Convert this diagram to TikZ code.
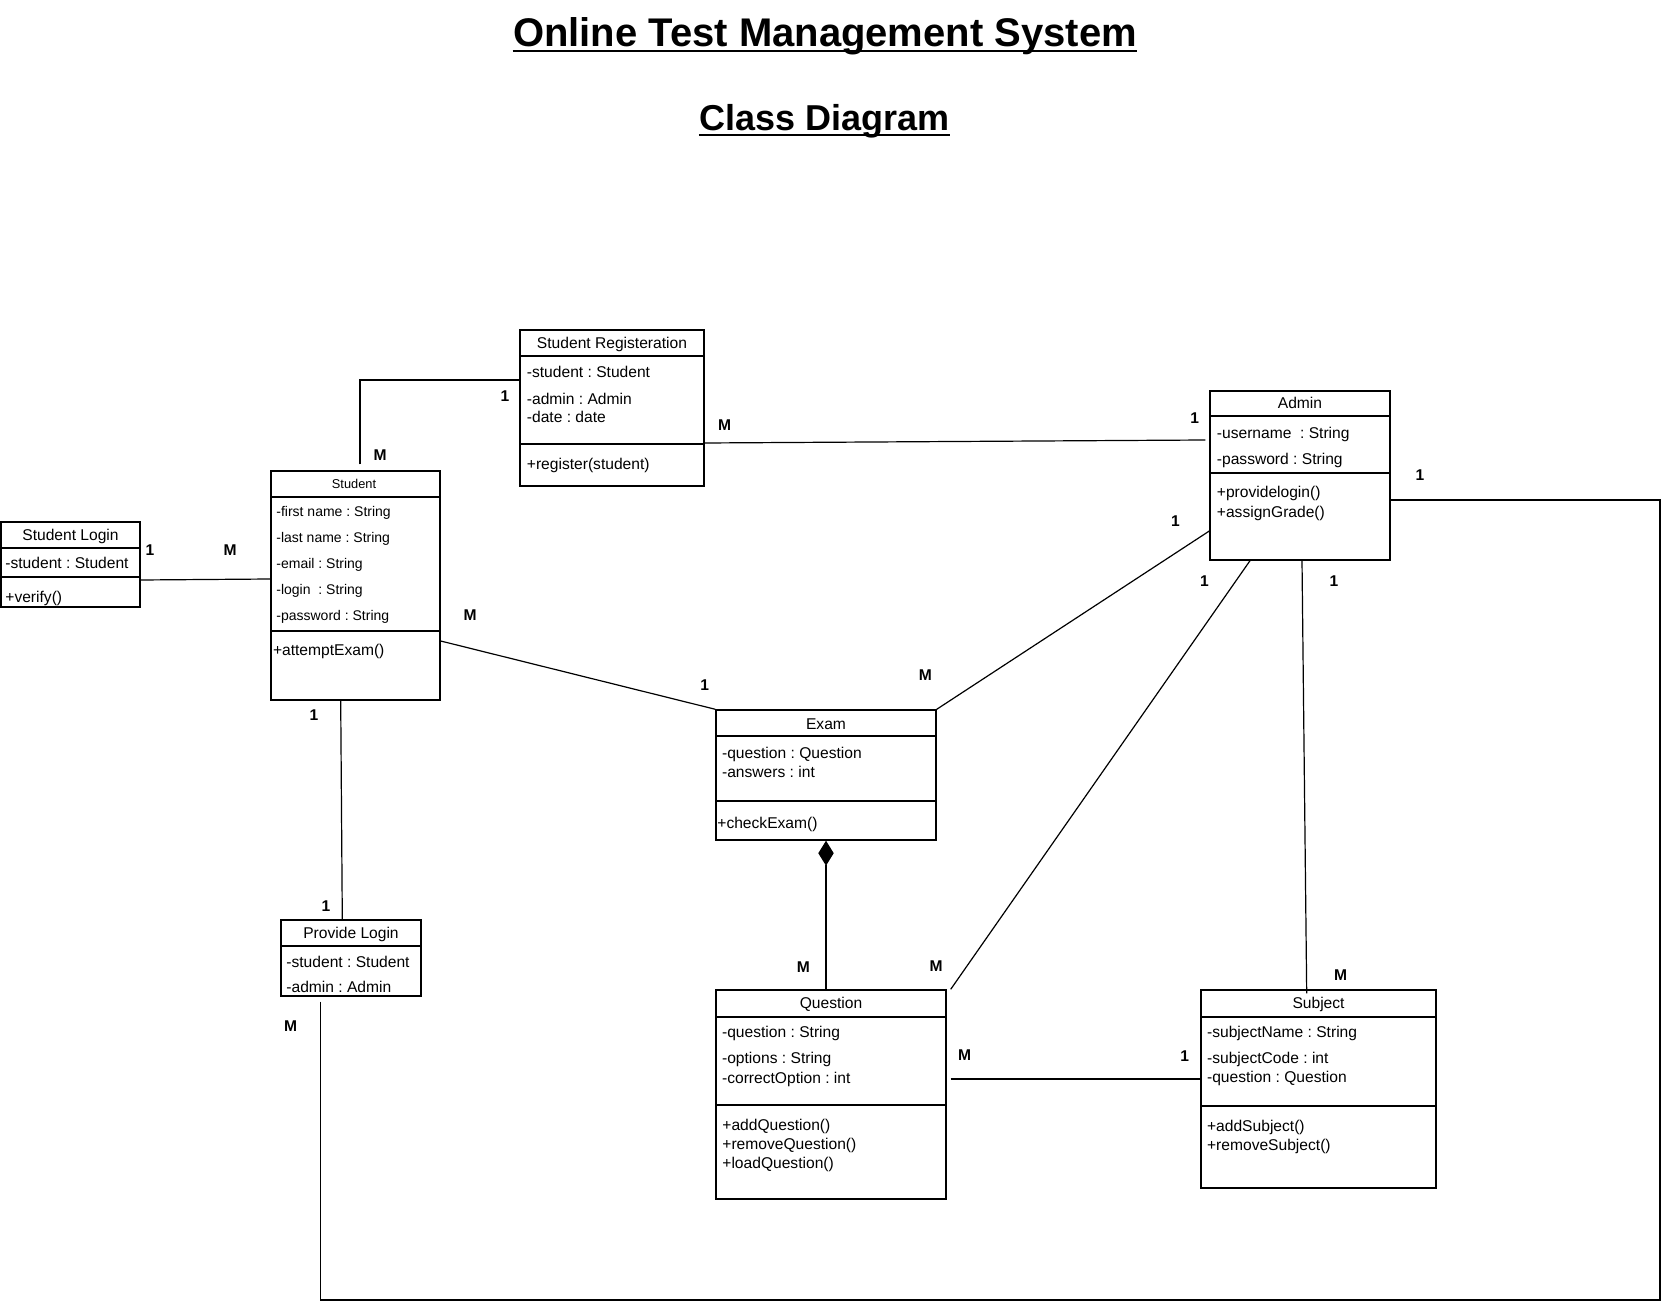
\documentclass[tikz,border=0pt]{standalone}
\usepackage{fontspec}
\setmainfont{Liberation Sans}
\usetikzlibrary{fit,arrows.meta}
\frenchspacing
\begin{document}
\begin{tikzpicture}[x=0.5pt,y=-0.5pt,
  box/.style={draw,line width=0.7pt,inner sep=0pt},
  div/.style={line width=0.7pt},
  conn/.style={line width=0.6pt},
  ttl/.style={font=\fontsize{7.8pt}{9pt}\selectfont,inner sep=0pt,text height=5.5pt,text depth=0pt,anchor=center},
  attr/.style={font=\fontsize{7.8pt}{9pt}\selectfont,inner sep=0pt,text height=5.5pt,text depth=0pt,anchor=west},
  sattr/.style={font=\fontsize{7pt}{8pt}\selectfont,inner sep=0pt,text height=4.9pt,text depth=0pt,anchor=west},
  stitle/.style={font=\fontsize{6.4pt}{7pt}\selectfont,inner sep=0pt,text height=4.5pt,text depth=0pt,anchor=center},
  mult/.style={font=\bfseries\fontsize{7.8pt}{9pt}\selectfont,inner sep=0pt,text height=5.6pt,text depth=0pt,anchor=center},
  headline/.style={font=\bfseries\fontsize{20pt}{24pt}\selectfont,inner sep=0pt,anchor=base},
  subheadline/.style={font=\bfseries\fontsize{18pt}{22pt}\selectfont,inner sep=0pt,anchor=base},
  uline/.style={line width=1pt},
]
\useasboundingbox (0,0) rectangle (1664,1304);

% titles
\node[headline] (t1) at (825,46.7) {Online Test Management System};
\draw[uline] ([yshift=-2pt]t1.base west) -- ([yshift=-2pt]t1.base east);
\node[subheadline] (t2) at (824.4,130.7) {Class Diagram};
\draw[uline] ([yshift=-2pt]t2.base west) -- ([yshift=-2pt]t2.base east);

% Student Login
\node[box,fit={(1,522)(140,607)}] (sl) {};
\draw[div] (sl.west |- 0,548) -- (sl.east |- 0,548);
\draw[div] (sl.west |- 0,577) -- (sl.east |- 0,577);
\node[ttl] (slT) at (70.5,535) {Student Login};
\node[attr] (slA) at (5,563) {-student : Student};
\node[attr] (slM) at (5,597) {+verify()};

% Student
\node[box,fit={(271,471)(440,700)}] (stu) {};
\draw[div] (stu.west |- 0,497) -- (stu.east |- 0,497);
\draw[div] (stu.west |- 0,631) -- (stu.east |- 0,631);
\node[stitle] (stuT) at (354,484) {Student};
\node[sattr] (stuA1) at (276,511.7) {-first name : String};
\node[sattr] (stuA2) at (276,537.3) {-last name : String};
\node[sattr] (stuA3) at (276,563.3) {-email : String};
\node[sattr] (stuA4) at (276,589.3) {-login~ : String};
\node[sattr] (stuA5) at (276,615.3) {-password : String};
\node[attr] (stuM1) at (272.6,650) {+attemptExam()};

% Student Registeration
\node[box,fit={(520,330)(704,486)}] (reg) {};
\draw[div] (reg.west |- 0,356) -- (reg.east |- 0,356);
\draw[div] (reg.west |- 0,444) -- (reg.east |- 0,444);
\node[ttl] (regT) at (612,343.3) {Student Registeration};
\node[attr] (regA1) at (526.5,372.3) {-student : Student};
\node[attr] (regA2) at (526.5,398.7) {-admin : Admin};
\node[attr] (regA3) at (526.5,417.3) {-date : date};
\node[attr] (regM1) at (526.5,464.3) {+register(student)};

% Admin
\node[box,fit={(1210,391)(1390,560)}] (adm) {};
\draw[div] (adm.west |- 0,416) -- (adm.east |- 0,416);
\draw[div] (adm.west |- 0,473) -- (adm.east |- 0,473);
\node[ttl] (admT) at (1300,403.3) {Admin};
\node[attr] (admA1) at (1216.5,432.7) {-username~ : String};
\node[attr] (admA2) at (1216.5,458.7) {-password : String};
\node[attr] (admM1) at (1216.5,492.3) {+providelogin()};
\node[attr] (admM2) at (1216.5,511.7) {+assignGrade()};

% Exam
\node[box,fit={(716,710)(936,840)}] (ex) {};
\draw[div] (ex.west |- 0,736) -- (ex.east |- 0,736);
\draw[div] (ex.west |- 0,801) -- (ex.east |- 0,801);
\node[ttl] (exT) at (826,724) {Exam};
\node[attr] (exA1) at (721.7,752.7) {-question : Question};
\node[attr] (exA2) at (721.7,771.7) {-answers : int};
\node[attr] (exM1) at (717,823) {+checkExam()};

% Question
\node[box,fit={(716,990)(946,1199)}] (qu) {};
\draw[div] (qu.west |- 0,1017) -- (qu.east |- 0,1017);
\draw[div] (qu.west |- 0,1105) -- (qu.east |- 0,1105);
\node[ttl] (quT) at (831,1003.3) {Question};
\node[attr] (quA1) at (721.7,1032.3) {-question : String};
\node[attr] (quA2) at (721.7,1058.3) {-options : String};
\node[attr] (quA3) at (721.7,1077.7) {-correctOption : int};
\node[attr] (quM1) at (722,1125) {+addQuestion()};
\node[attr] (quM2) at (722,1144) {+removeQuestion()};
\node[attr] (quM3) at (722,1162.7) {+loadQuestion()};

% Subject
\node[box,fit={(1201,990)(1436,1188)}] (sub) {};
\draw[div] (sub.west |- 0,1017) -- (sub.east |- 0,1017);
\draw[div] (sub.west |- 0,1106) -- (sub.east |- 0,1106);
\node[ttl] (subT) at (1318.5,1003.3) {Subject};
\node[attr] (subA1) at (1206.7,1032.3) {-subjectName : String};
\node[attr] (subA2) at (1206.7,1058.3) {-subjectCode : int};
\node[attr] (subA3) at (1206.7,1077.3) {-question : Question};
\node[attr] (subM1) at (1206.7,1126) {+addSubject()};
\node[attr] (subM2) at (1206.7,1145.3) {+removeSubject()};

% Provide Login
\node[box,fit={(281,920)(421,996)}] (pl) {};
\draw[div] (pl.west |- 0,946) -- (pl.east |- 0,946);
\node[ttl] (plT) at (351,933.3) {Provide Login};
\node[attr] (plA1) at (286,961.7) {-student : Student};
\node[attr] (plA2) at (286,986.7) {-admin : Admin};

% connectors
\coordinate (bendA) at (1660,1300);
\draw[conn] ([yshift=3pt]stu.north -| 360,0) |- (reg.west |- 0,380);
\draw[conn] (sl.east |- 0,580) -- (stu.west |- 0,579);
\draw[conn] (stu.east |- 0,641) -- (ex.north west);
\draw[conn] (reg.east |- 0,443) -- ([xshift=-2pt]adm.west |- 0,440);
\draw[conn] (adm.west |- 0,531) -- (ex.north east);
\draw[conn] (adm.south -| 1250,0) -- ([xshift=2pt]qu.north east);
\draw[conn] (adm.south -| 1302,0) -- ([yshift=-2pt]sub.north -| 1306.7,0);
\draw[conn,{Diamond[length=12.5pt,width=7.7pt]}-] (ex.south) -- (qu.north -| ex.south);
\draw[conn] ([xshift=2pt]qu.east |- 0,1079) -- (sub.west |- 0,1079);
\draw[conn] (stu.south -| 340.7,0) -- (pl.north -| 342.3,0);
\draw[conn] ([yshift=-2.5pt]pl.south -| 320.3,0) |- (bendA) |- (adm.east |- 0,500);

% multiplicities
\node[mult] (m1) at (505,396) {1};
\node[mult] (m2) at (380,455) {M};
\node[mult] (m3) at (150,550) {1};
\node[mult] (m4) at (230,550) {M};
\node[mult] (m5) at (470,615) {M};
\node[mult] (m6) at (704.6,685) {1};
\node[mult] (m7) at (724.6,425) {M};
\node[mult] (m8) at (1194.6,418) {1};
\node[mult] (m9) at (1175.4,521) {1};
\node[mult] (m10) at (925.4,675) {M};
\node[mult] (m11) at (1204.4,580.7) {1};
\node[mult] (m12) at (1333.9,580.7) {1};
\node[mult] (m13) at (936,966) {M};
\node[mult] (m14) at (803.3,966.7) {M};
\node[mult] (m15) at (964.6,1055) {M};
\node[mult] (m16) at (1184.7,1055.7) {1};
\node[mult] (m17) at (1340.7,975) {M};
\node[mult] (m18) at (326,905.7) {1};
\node[mult] (m19) at (314,715) {1};
\node[mult] (m20) at (290.7,1025.7) {M};
\node[mult] (m21) at (1420,475) {1};
\end{tikzpicture}
\end{document}
